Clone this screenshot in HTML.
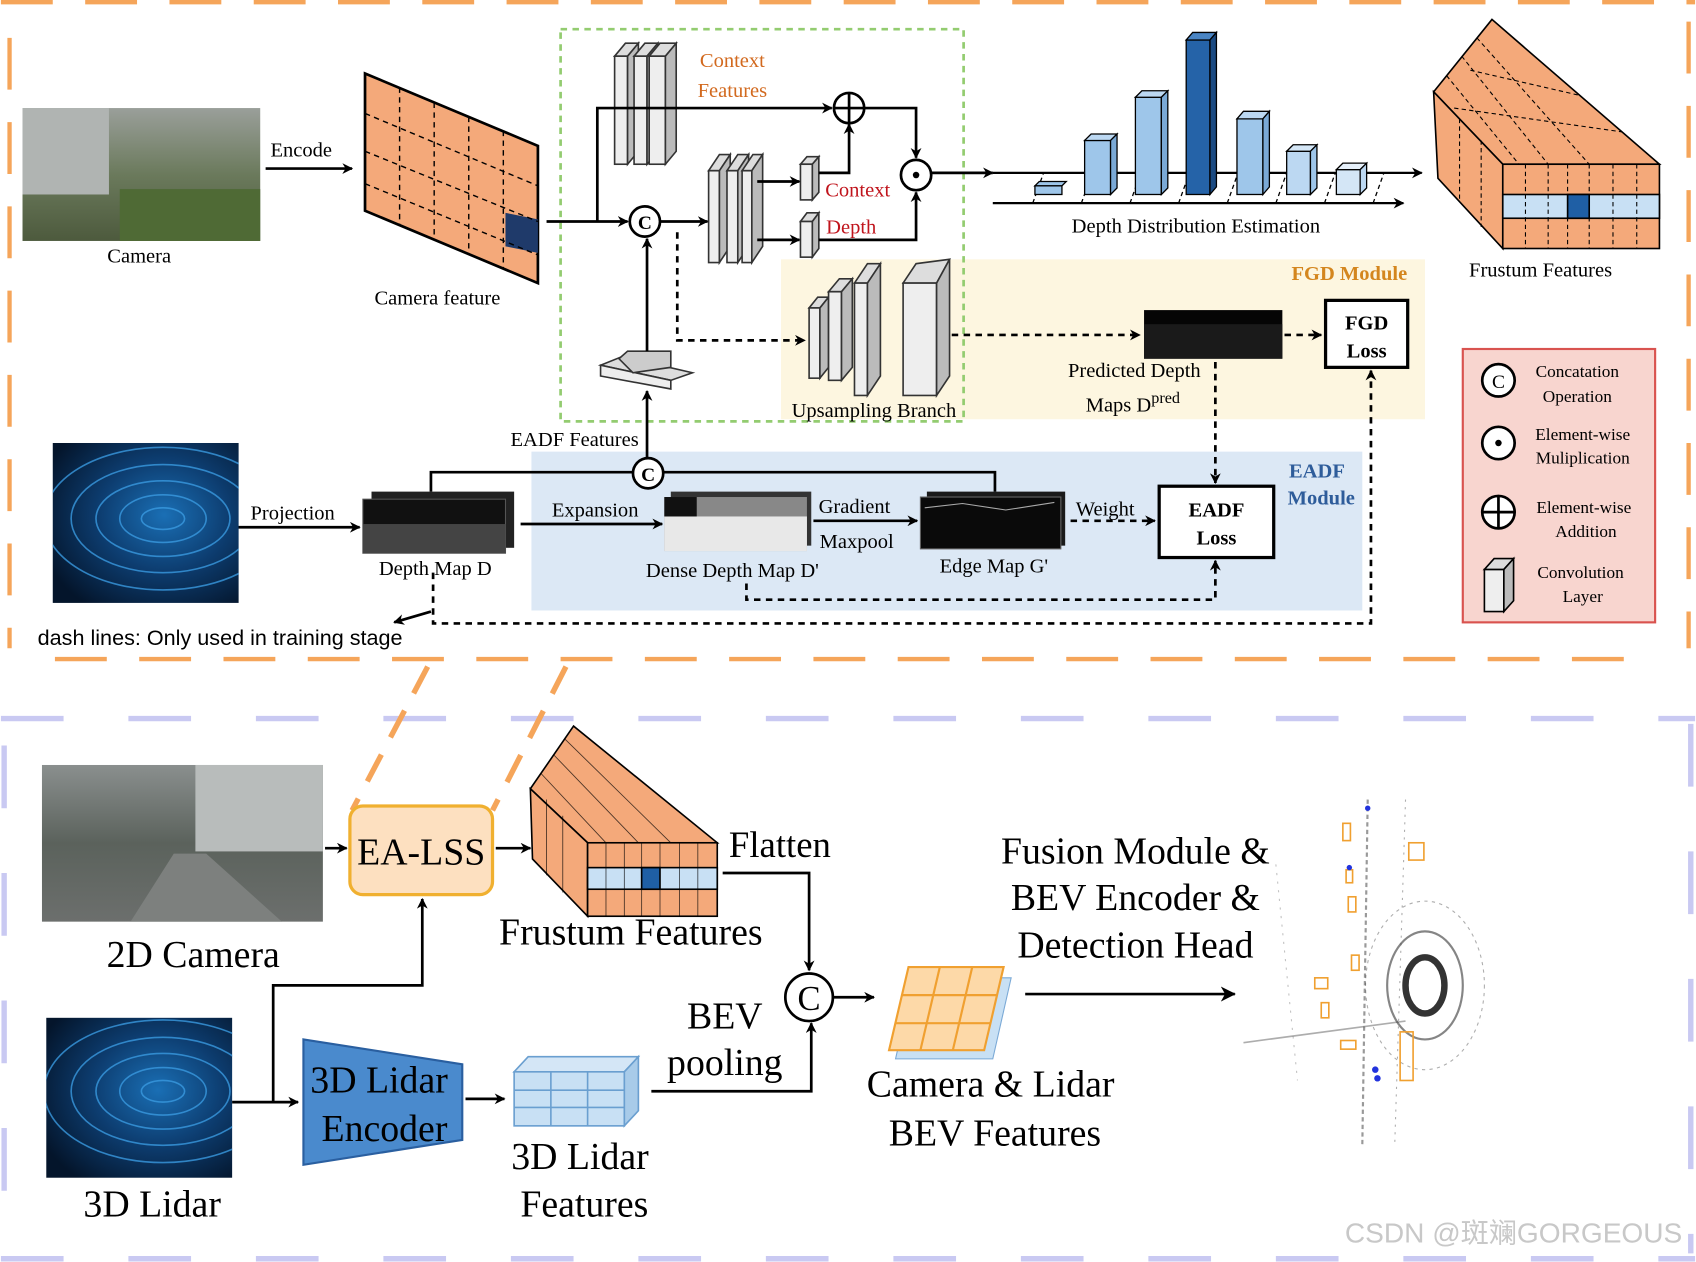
<!DOCTYPE html>
<html><head><meta charset="utf-8"><style>
html,body{margin:0;padding:0;background:#fff;}
svg{display:block}
text{font-family:"Liberation Serif","Noto Serif CJK SC",serif;}
.s{font-family:"Liberation Sans","Noto Sans CJK SC",sans-serif;}
</style></head><body>
<svg width="1696" height="1262" viewBox="0 0 1568 1168" xmlns="http://www.w3.org/2000/svg">
<defs>
<marker id="a" markerWidth="10" markerHeight="10" refX="9" refY="5" orient="auto" markerUnits="userSpaceOnUse"><path d="M0,0 L10,5 L0,10 L3,5 z" fill="#000"/></marker>
<marker id="b" markerWidth="14" markerHeight="14" refX="13" refY="7" orient="auto" markerUnits="userSpaceOnUse"><path d="M0,0 L14,7 L0,14 L4,7 z" fill="#000"/></marker>
<radialGradient id="lid" cx="0.6" cy="0.45" r="0.7"><stop offset="0" stop-color="#1a6fb5"/><stop offset="0.5" stop-color="#0d3d70"/><stop offset="1" stop-color="#04152b"/></radialGradient>
<linearGradient id="cam" x1="0" y1="0" x2="0" y2="1"><stop offset="0" stop-color="#9a9f9a"/><stop offset="0.5" stop-color="#6b7a5c"/><stop offset="1" stop-color="#4d5a3d"/></linearGradient>
<linearGradient id="cam2" x1="0" y1="0" x2="0" y2="1"><stop offset="0" stop-color="#8a8f8e"/><stop offset="0.5" stop-color="#5b625c"/><stop offset="1" stop-color="#6c6f6d"/></linearGradient>
<clipPath id="c1"><rect x="48" y="410" width="172" height="148"/></clipPath>
<clipPath id="c2"><rect x="42" y="942" width="172" height="148"/></clipPath>
</defs>

<g stroke="#f5a55a" stroke-width="4" stroke-dasharray="48,30" fill="none">
<line x1="0" y1="2" x2="1568" y2="2"/>
<line x1="8" y1="35" x2="8" y2="600"/>
<line x1="50" y1="610" x2="1520" y2="610"/>
<line x1="1562" y1="20" x2="1562" y2="600"/>
</g>
<g stroke="#c9c9f2" stroke-width="5" stroke-dasharray="58,60" fill="none">
<line x1="0" y1="665" x2="1568" y2="665"/>
<line x1="3" y1="690" x2="3" y2="1160"/>
<line x1="0" y1="1165" x2="1568" y2="1165"/>
<line x1="1564" y1="670" x2="1564" y2="1160"/>
</g>

<rect x="722" y="240" width="596" height="148" fill="#fdf6e0"/>
<rect x="491" y="418" width="769" height="147" fill="#dce8f5"/>
<rect x="518" y="27" width="373" height="363" fill="none" stroke="#93cc70" stroke-width="2.5" stroke-dasharray="6,5"/>
<text x="1248" y="259" font-size="19" font-weight="bold" fill="#d4861e" text-anchor="middle">FGD Module</text>
<text x="1218" y="442" font-size="19" font-weight="bold" fill="#2e5c9a" text-anchor="middle">EADF</text>
<text x="1222" y="467" font-size="19" font-weight="bold" fill="#2e5c9a" text-anchor="middle">Module</text>

<rect x="20" y="100" width="220" height="123" fill="url(#cam)"/>
<rect x="20" y="100" width="80" height="80" fill="#b0b4b2"/>
<rect x="110" y="175" width="130" height="48" fill="#4f6a35"/>
<text x="128" y="243" font-size="19" text-anchor="middle">Camera</text>
<text x="278" y="145" font-size="19" text-anchor="middle">Encode</text>
<line x1="245" y1="156" x2="325" y2="156" stroke="#000" stroke-width="2.5" marker-end="url(#a)"/>

<polygon points="337,68 497,135 497,262 337,195" fill="#f4a97a" stroke="#000" stroke-width="2.5"/>
<polygon points="467,197 497,203 497,234 467,228" fill="#1f3a6a"/>
<g stroke="#000" stroke-width="1.3" stroke-dasharray="5,4" fill="none">
<line x1="369" y1="81" x2="369" y2="208"/><line x1="401" y1="95" x2="401" y2="222"/><line x1="433" y1="108" x2="433" y2="235"/><line x1="465" y1="121" x2="465" y2="248"/>
<line x1="337" y1="105" x2="497" y2="172"/><line x1="337" y1="140" x2="497" y2="205"/><line x1="337" y1="170" x2="497" y2="236"/>
</g>
<text x="404" y="282" font-size="19" text-anchor="middle">Camera feature</text>

<g stroke="#333" stroke-width="1.5">
<polygon points="568,52 578,40 590,40 580,52" fill="#ddd"/><rect x="568" y="52" width="12" height="100" fill="#eee"/>
<polygon points="580,152 590,140 590,40 580,52" fill="#bbb"/>
<polygon points="586,52 596,40 608,40 598,52" fill="#ddd"/><rect x="586" y="52" width="12" height="100" fill="#eee"/>
<polygon points="598,152 608,140 608,40 598,52" fill="#bbb"/>
<polygon points="600,52 610,40 625,40 615,52" fill="#ddd"/><rect x="600" y="52" width="15" height="100" fill="#eee"/>
<polygon points="615,152 625,140 625,40 615,52" fill="#bbb"/>

<polygon points="655,158 665,143 675,143 665,158" fill="#ddd"/><rect x="655" y="158" width="10" height="85" fill="#eee"/><polygon points="665,243 675,228 675,143 665,158" fill="#bbb"/>
<polygon points="672,158 682,143 692,143 682,158" fill="#ddd"/><rect x="672" y="158" width="10" height="85" fill="#eee"/><polygon points="682,243 692,228 692,143 682,158" fill="#bbb"/>
<polygon points="686,158 696,143 705,143 695,158" fill="#ddd"/><rect x="686" y="158" width="9" height="85" fill="#eee"/><polygon points="695,243 705,228 705,143 695,158" fill="#bbb"/>

<polygon points="740,152 746,145 757,145 751,152" fill="#ddd"/><rect x="740" y="152" width="11" height="33" fill="#eee"/><polygon points="751,185 757,178 757,145 751,152" fill="#bbb"/>
<polygon points="740,205 746,197 757,197 751,205" fill="#ddd"/><rect x="740" y="205" width="11" height="33" fill="#eee"/><polygon points="751,238 757,230 757,197 751,205" fill="#bbb"/>

<polygon points="748,285 756,275 766,275 758,285" fill="#ddd"/><rect x="748" y="285" width="10" height="65" fill="#eee"/><polygon points="758,350 766,340 766,275 758,285" fill="#bbb"/>
<polygon points="766,270 776,258 788,258 778,270" fill="#ddd"/><rect x="766" y="270" width="12" height="82" fill="#eee"/><polygon points="778,352 788,340 788,258 778,270" fill="#bbb"/>
<polygon points="790,262 802,244 814,244 802,262" fill="#ddd"/><rect x="790" y="262" width="12" height="104" fill="#eee"/><polygon points="802,366 814,348 814,244 802,262" fill="#bbb"/>
<polygon points="835,262 847,244 878,240 866,262" fill="#ddd"/><rect x="835" y="262" width="31" height="104" fill="#eee"/><polygon points="866,366 878,348 878,240 866,262" fill="#bbb"/>

<polygon points="555,338 575,330 640,345 620,352" fill="#ddd"/>
<polygon points="555,338 620,352 620,360 555,348" fill="#eee"/>
<polygon points="572,332 580,325 620,325 620,340 585,345" fill="#ccc"/>
</g>
<text x="677" y="62" font-size="19" fill="#d2691e" text-anchor="middle">Context</text>
<text x="677" y="90" font-size="19" fill="#d2691e" text-anchor="middle">Features</text>
<text x="793" y="182" font-size="19" fill="#c0141c" text-anchor="middle">Context</text>
<text x="787" y="216" font-size="19" fill="#c0141c" text-anchor="middle">Depth</text>
<text x="808" y="386" font-size="19" text-anchor="middle">Upsampling Branch</text>

<g stroke="#000" stroke-width="2.5" fill="none">
<line x1="505" y1="205" x2="580" y2="205" marker-end="url(#a)"/>
<polyline points="552,205 552,100 769,100" marker-end="url(#a)"/>
<line x1="610" y1="205" x2="654" y2="205" marker-end="url(#a)"/>
<line x1="700" y1="168" x2="739" y2="168" marker-end="url(#a)"/>
<line x1="700" y1="222" x2="739" y2="222" marker-end="url(#a)"/>
<polyline points="757,160 785,160 785,115" marker-end="url(#a)"/>
<polyline points="799,100 847,100 847,146" marker-end="url(#a)"/>
<polyline points="757,222 847,222 847,178" marker-end="url(#a)"/>
<line x1="861" y1="160" x2="918" y2="160" marker-end="url(#a)"/>
<line x1="598" y1="325" x2="598" y2="221" marker-end="url(#a)"/>
<line x1="598" y1="424" x2="598" y2="362" marker-end="url(#a)"/>
<polyline points="398,455 398,437 920,437 920,455"/>
<line x1="205" y1="488" x2="332" y2="488" marker-end="url(#a)"/>
<line x1="481" y1="485" x2="612" y2="485" marker-end="url(#a)"/>
<line x1="752" y1="482" x2="848" y2="482" marker-end="url(#a)"/>
</g>
<g stroke="#000" stroke-width="2.5" fill="#fff">
<circle cx="785" cy="100" r="14"/><circle cx="847" cy="162" r="14"/>
<circle cx="596" cy="205" r="14"/><circle cx="599" cy="438" r="14"/>
</g>
<path d="M771,100 H799 M785,86 V114" stroke="#000" stroke-width="2.5"/>
<circle cx="847" cy="162" r="3" fill="#000"/>
<text x="596" y="212" font-size="18" font-weight="bold" text-anchor="middle">C</text>
<text x="599" y="445" font-size="18" font-weight="bold" text-anchor="middle">C</text>

<g stroke="#000" stroke-width="2.5" fill="none" stroke-dasharray="6,5">
<polyline points="626,215 626,315 744,315" marker-end="url(#a)"/>
<line x1="880" y1="310" x2="1054" y2="310" marker-end="url(#a)"/>
<line x1="1188" y1="310" x2="1222" y2="310" marker-end="url(#a)"/>
<line x1="1124" y1="335" x2="1124" y2="447" marker-end="url(#a)"/>
<line x1="990" y1="482" x2="1068" y2="482" marker-end="url(#a)"/>
<polyline points="690,540 690,555 1124,555 1124,519" marker-end="url(#a)"/>
<polyline points="400,530 400,577 1268,577 1268,343" marker-end="url(#a)"/>
</g>
<line x1="398" y1="566" x2="364" y2="576" stroke="#000" stroke-width="2.5" marker-end="url(#a)"/>
<text x="34" y="597" font-size="20" class="s">dash lines: Only used in training stage</text>

<rect x="1058" y="287" width="128" height="45" fill="#050505"/>
<rect x="1058" y="300" width="128" height="32" fill="#1a1a1a"/>
<rect x="1226" y="278" width="76" height="62" fill="#fff" stroke="#000" stroke-width="3"/>
<text x="1264" y="305" font-size="19" font-weight="bold" text-anchor="middle">FGD</text>
<text x="1264" y="331" font-size="19" font-weight="bold" text-anchor="middle">Loss</text>
<text x="1049" y="349" font-size="19" text-anchor="middle">Predicted Depth</text>
<text x="1004" y="381" font-size="19">Maps D<tspan dy="-8" font-size="15">pred</tspan></text>
<rect x="1072" y="450" width="106" height="66" fill="#fff" stroke="#000" stroke-width="3"/>
<text x="1125" y="478" font-size="19" font-weight="bold" text-anchor="middle">EADF</text>
<text x="1125" y="504" font-size="19" font-weight="bold" text-anchor="middle">Loss</text>

<rect x="48" y="410" width="172" height="148" fill="url(#lid)"/>
<g stroke="#3a9ae0" stroke-width="1.5" fill="none" opacity="0.8" clip-path="url(#c1)">
<ellipse cx="150" cy="480" rx="20" ry="10"/><ellipse cx="150" cy="480" rx="40" ry="22"/><ellipse cx="150" cy="480" rx="62" ry="35"/><ellipse cx="150" cy="480" rx="85" ry="50"/><ellipse cx="150" cy="480" rx="110" ry="66"/>
</g>
<text x="270" y="481" font-size="19" text-anchor="middle">Projection</text>
<rect x="343" y="455" width="132" height="52" fill="#222"/>
<rect x="335" y="462" width="132" height="50" fill="#111" stroke="#555"/>
<rect x="335" y="485" width="132" height="27" fill="#444"/>
<text x="402" y="532" font-size="19" text-anchor="middle">Depth Map D</text>
<text x="550" y="478" font-size="19" text-anchor="middle">Expansion</text>
<rect x="620" y="455" width="130" height="50" fill="#333"/>
<rect x="614" y="460" width="132" height="50" fill="#888"/>
<rect x="614" y="478" width="132" height="32" fill="#e8e8e8"/>
<rect x="614" y="460" width="30" height="18" fill="#111"/>
<text x="677" y="534" font-size="19" text-anchor="middle">Dense Depth Map D'</text>
<text x="790" y="475" font-size="19" text-anchor="middle">Gradient</text>
<text x="792" y="507" font-size="19" text-anchor="middle">Maxpool</text>
<rect x="857" y="455" width="128" height="50" fill="#1a1a1a"/>
<rect x="851" y="460" width="130" height="48" fill="#0a0a0a" stroke="#666"/>
<path d="M855,470 L890,466 L930,472 L975,465" stroke="#aaa" fill="none"/>
<text x="919" y="530" font-size="19" text-anchor="middle">Edge Map G'</text>
<text x="1022" y="477" font-size="19" text-anchor="middle">Weight</text>
<text x="531" y="413" font-size="19" text-anchor="middle">EADF Features</text>

<line x1="918" y1="160" x2="1315" y2="160" stroke="#000" stroke-width="2" marker-end="url(#a)"/>
<line x1="918" y1="188" x2="1298" y2="188" stroke="#000" stroke-width="2" marker-end="url(#a)"/>
<g stroke="#000" stroke-width="1.2" stroke-dasharray="4,3">
<line x1="955" y1="188" x2="965" y2="160"/><line x1="1000" y1="188" x2="1010" y2="160"/><line x1="1045" y1="188" x2="1055" y2="160"/><line x1="1090" y1="188" x2="1100" y2="160"/><line x1="1135" y1="188" x2="1145" y2="160"/><line x1="1180" y1="188" x2="1190" y2="160"/><line x1="1225" y1="188" x2="1235" y2="160"/><line x1="1270" y1="188" x2="1280" y2="160"/>
</g>
<g stroke="#000" stroke-width="1.2">
<polygon points="957,172 982,172 986,168 961,168" fill="#9ec6ea"/><rect x="957" y="172" width="25" height="8" fill="#9ec6ea"/>
<rect x="1003" y="130" width="24" height="50" fill="#9ec6ea"/><polygon points="1003,130 1009,124 1033,124 1027,130" fill="#bcd8f2"/><polygon points="1027,180 1033,174 1033,124 1027,130" fill="#7aa9d6"/>
<rect x="1050" y="90" width="24" height="90" fill="#9ec6ea"/><polygon points="1050,90 1056,84 1080,84 1074,90" fill="#bcd8f2"/><polygon points="1074,180 1080,174 1080,84 1074,90" fill="#7aa9d6"/>
<rect x="1097" y="37" width="22" height="143" fill="#2563a8"/><polygon points="1097,37 1103,30 1125,30 1119,37" fill="#4a85c4"/><polygon points="1119,180 1125,173 1125,30 1119,37" fill="#1a4a82"/>
<rect x="1144" y="110" width="24" height="70" fill="#9ec6ea"/><polygon points="1144,110 1150,103 1174,103 1168,110" fill="#bcd8f2"/><polygon points="1168,180 1174,173 1174,103 1168,110" fill="#7aa9d6"/>
<rect x="1190" y="140" width="22" height="40" fill="#bcd8f2"/><polygon points="1190,140 1196,134 1218,134 1212,140" fill="#d4e6f6"/><polygon points="1212,180 1218,174 1218,134 1212,140" fill="#9ec6ea"/>
<rect x="1236" y="157" width="22" height="23" fill="#d4e6f6"/><polygon points="1236,157 1242,151 1264,151 1258,157" fill="#e6f0fa"/><polygon points="1258,180 1264,174 1264,151 1258,157" fill="#bcd8f2"/>
</g>
<text x="1106" y="215" font-size="19" text-anchor="middle">Depth Distribution Estimation</text>

<g stroke="#000" stroke-width="1.5">
<polygon points="1326,85 1380,18 1535,152 1390,152" fill="#f4a97a"/>
<polygon points="1326,85 1390,152 1390,230 1330,165" fill="#f4a97a"/>
<rect x="1390" y="152" width="145" height="78" fill="#f4a97a"/>
<rect x="1390" y="180" width="145" height="22" fill="#c8e0f4"/>
<rect x="1450" y="180" width="20" height="22" fill="#1f5fa5"/>
</g>
<g stroke="#000" stroke-width="1" stroke-dasharray="4,3" fill="none">
<line x1="1411" y1="152" x2="1411" y2="230"/><line x1="1432" y1="152" x2="1432" y2="230"/><line x1="1450" y1="152" x2="1450" y2="230"/><line x1="1470" y1="152" x2="1470" y2="230"/><line x1="1492" y1="152" x2="1492" y2="230"/><line x1="1514" y1="152" x2="1514" y2="230"/>
<line x1="1338" y1="70" x2="1405" y2="152"/><line x1="1352" y1="52" x2="1432" y2="152"/><line x1="1366" y1="35" x2="1470" y2="152"/>
<line x1="1345" y1="100" x2="1500" y2="122"/><line x1="1360" y1="65" x2="1460" y2="88"/><line x1="1350" y1="110" x2="1350" y2="185"/><line x1="1370" y1="130" x2="1370" y2="210"/>
</g>
<text x="1425" y="256" font-size="19" text-anchor="middle">Frustum Features</text>

<rect x="1353" y="323" width="178" height="253" fill="#f8d5cf" stroke="#d9534f" stroke-width="2"/>
<g stroke="#000" stroke-width="2.5" fill="#fff">
<circle cx="1386" cy="352" r="15"/><circle cx="1386" cy="410" r="15"/><circle cx="1386" cy="474" r="15"/>
</g>
<text x="1386" y="359" font-size="18" text-anchor="middle">C</text>
<circle cx="1386" cy="410" r="3" fill="#000"/>
<path d="M1371,474 H1401 M1386,459 V489" stroke="#000" stroke-width="2.5"/>
<g stroke="#000" stroke-width="1.5"><rect x="1373" y="527" width="18" height="39" fill="#eee"/><polygon points="1373,527 1382,517 1400,517 1391,527" fill="#ddd"/><polygon points="1391,566 1400,556 1400,517 1391,527" fill="#bbb"/></g>
<g font-size="16" text-anchor="middle">
<text x="1459" y="349">Concatation</text><text x="1459" y="372">Operation</text>
<text x="1464" y="407">Element-wise</text><text x="1464" y="429">Muliplication</text>
<text x="1465" y="475">Element-wise</text><text x="1467" y="497">Addition</text>
<text x="1462" y="535">Convolution</text><text x="1464" y="557">Layer</text>
</g>

<g stroke="#f5a55a" stroke-width="5" stroke-dasharray="28,18"><line x1="395" y1="617" x2="325" y2="750"/><line x1="523" y1="617" x2="455" y2="750"/></g>
<rect x="38" y="708" width="260" height="145" fill="url(#cam2)"/>
<rect x="180" y="708" width="118" height="80" fill="#b8bcbb"/>
<polygon points="120,853 160,790 190,790 260,853" fill="#7d807e"/>
<text x="178" y="895" font-size="35" text-anchor="middle">2D Camera</text>
<line x1="300" y1="785" x2="320" y2="785" stroke="#000" stroke-width="2.5" marker-end="url(#a)"/>
<rect x="323" y="746" width="132" height="82" rx="12" fill="#fde0c0" stroke="#f0b030" stroke-width="3"/>
<text x="389" y="800" font-size="35" text-anchor="middle">EA-LSS</text>
<line x1="458" y1="785" x2="490" y2="785" stroke="#000" stroke-width="2.5" marker-end="url(#a)"/>

<g stroke="#000" stroke-width="1.5">
<polygon points="490,730 530,672 663,780 543,780" fill="#f4a97a"/>
<polygon points="490,730 543,780 543,848 492,795" fill="#f4a97a"/>
<rect x="543" y="780" width="120" height="68" fill="#f4a97a"/>
<rect x="543" y="803" width="120" height="20" fill="#c8e0f4"/>
<rect x="593" y="803" width="17" height="20" fill="#1f5fa5"/>
</g>
<g stroke="#000" stroke-width="0.8" fill="none" opacity="0.7">
<line x1="560" y1="780" x2="560" y2="848"/><line x1="577" y1="780" x2="577" y2="848"/><line x1="593" y1="780" x2="593" y2="848"/><line x1="610" y1="780" x2="610" y2="848"/><line x1="628" y1="780" x2="628" y2="848"/><line x1="645" y1="780" x2="645" y2="848"/>
<line x1="500" y1="716" x2="560" y2="780"/><line x1="512" y1="699" x2="590" y2="780"/><line x1="522" y1="684" x2="620" y2="780"/>
<line x1="505" y1="740" x2="505" y2="810"/><line x1="520" y1="755" x2="520" y2="826"/>
</g>
<text x="583" y="874" font-size="35" text-anchor="middle">Frustum Features</text>
<text x="721" y="793" font-size="34" text-anchor="middle">Flatten</text>
<polyline points="668,808 748,808 748,898" stroke="#000" stroke-width="2.5" fill="none" marker-end="url(#a)"/>
<circle cx="748" cy="923" r="22" fill="#fff" stroke="#000" stroke-width="2.5"/>
<text x="748" y="935" font-size="32" text-anchor="middle">C</text>
<line x1="770" y1="923" x2="808" y2="923" stroke="#000" stroke-width="2.5" marker-end="url(#a)"/>
<text x="670" y="952" font-size="35" text-anchor="middle">BEV</text>
<text x="670" y="995" font-size="35" text-anchor="middle">pooling</text>

<polygon points="845,905 935,905 918,980 828,980" fill="#c8e0f4" stroke="#7aa9d6"/>
<polygon points="840,895 928,895 910,972 822,972" fill="#fdd9a8" stroke="#f0a030" stroke-width="2"/>
<g stroke="#f0a030" stroke-width="2"><line x1="869" y1="895" x2="851" y2="972"/><line x1="899" y1="895" x2="881" y2="972"/><line x1="834" y1="921" x2="922" y2="921"/><line x1="828" y1="947" x2="916" y2="947"/></g>
<text x="916" y="1015" font-size="35" text-anchor="middle">Camera &amp; Lidar</text>
<text x="920" y="1060" font-size="35" text-anchor="middle">BEV Features</text>
<text x="1050" y="799" font-size="35" text-anchor="middle">Fusion Module &amp;</text>
<text x="1050" y="842" font-size="35" text-anchor="middle">BEV Encoder &amp;</text>
<text x="1050" y="886" font-size="35" text-anchor="middle">Detection Head</text>
<line x1="948" y1="920" x2="1142" y2="920" stroke="#000" stroke-width="2.5" marker-end="url(#b)"/>

<g fill="none" stroke="#333">
<ellipse cx="1318" cy="912" rx="18" ry="26" stroke-width="6"/><ellipse cx="1318" cy="912" rx="35" ry="50" stroke-width="2" opacity="0.6"/>
<ellipse cx="1318" cy="912" rx="55" ry="78" stroke-width="1" opacity="0.4" stroke-dasharray="3,4"/>
<line x1="1265" y1="740" x2="1260" y2="1060" stroke-width="2" opacity="0.5" stroke-dasharray="4,3"/>
<line x1="1300" y1="740" x2="1290" y2="1060" stroke-width="1" opacity="0.4" stroke-dasharray="2,5"/>
<line x1="1180" y1="800" x2="1200" y2="1000" stroke-width="1" opacity="0.3" stroke-dasharray="2,6"/>
<line x1="1150" y1="965" x2="1300" y2="945" stroke-width="1.5" opacity="0.4"/>
</g>
<g stroke="#f0a030" stroke-width="1.5" fill="none">
<rect x="1242" y="762" width="7" height="16"/><rect x="1247" y="830" width="7" height="14"/><rect x="1250" y="884" width="7" height="14"/>
<rect x="1216" y="905" width="12" height="10"/><rect x="1222" y="928" width="7" height="14"/><rect x="1240" y="963" width="14" height="8"/><rect x="1295" y="955" width="12" height="45"/><rect x="1303" y="780" width="14" height="16"/><rect x="1245" y="805" width="6" height="12"/>
</g>
<g fill="#2233dd"><circle cx="1265" cy="748" r="2.5"/><circle cx="1248" cy="803" r="2.5"/><circle cx="1272" cy="990" r="3"/><circle cx="1274" cy="998" r="3"/></g>

<rect x="42" y="942" width="172" height="148" fill="url(#lid)"/>
<g stroke="#3a9ae0" stroke-width="1.5" fill="none" opacity="0.8" clip-path="url(#c2)">
<ellipse cx="150" cy="1010" rx="20" ry="10"/><ellipse cx="150" cy="1010" rx="40" ry="22"/><ellipse cx="150" cy="1010" rx="62" ry="35"/><ellipse cx="150" cy="1010" rx="85" ry="50"/><ellipse cx="150" cy="1010" rx="110" ry="66"/>
</g>
<text x="140" y="1126" font-size="35" text-anchor="middle">3D Lidar</text>
<line x1="214" y1="1020" x2="275" y2="1020" stroke="#000" stroke-width="2.5" marker-end="url(#a)"/>
<polyline points="252,1020 252,912 390,912 390,832" stroke="#000" stroke-width="2.5" fill="none" marker-end="url(#a)"/>
<polygon points="280,962 427,985 427,1055 280,1078" fill="#4a8acd" stroke="#2a5fa0" stroke-width="2"/>
<text x="350" y="1011" font-size="35" text-anchor="middle">3D Lidar</text>
<text x="355" y="1056" font-size="35" text-anchor="middle">Encoder</text>
<line x1="430" y1="1017" x2="466" y2="1017" stroke="#000" stroke-width="2.5" marker-end="url(#a)"/>
<g stroke="#6a9fd0" stroke-width="1.5">
<polygon points="475,992 488,978 590,978 577,992" fill="#d4e6f6"/>
<rect x="475" y="992" width="102" height="50" fill="#c8e0f4"/>
<polygon points="577,992 590,978 590,1028 577,1042" fill="#a8cbe9"/>
<line x1="509" y1="992" x2="509" y2="1042"/><line x1="543" y1="992" x2="543" y2="1042"/><line x1="475" y1="1009" x2="577" y2="1009"/><line x1="475" y1="1025" x2="577" y2="1025"/>
</g>
<text x="536" y="1082" font-size="35" text-anchor="middle">3D Lidar</text>
<text x="540" y="1126" font-size="35" text-anchor="middle">Features</text>
<polyline points="602,1010 750,1010 750,947" stroke="#000" stroke-width="2.5" fill="none" marker-end="url(#a)"/>

<text x="1400" y="1150" font-size="26" fill="#c8c8c8" text-anchor="middle" class="s">CSDN @斑斓GORGEOUS</text>
</svg>
</body></html>
